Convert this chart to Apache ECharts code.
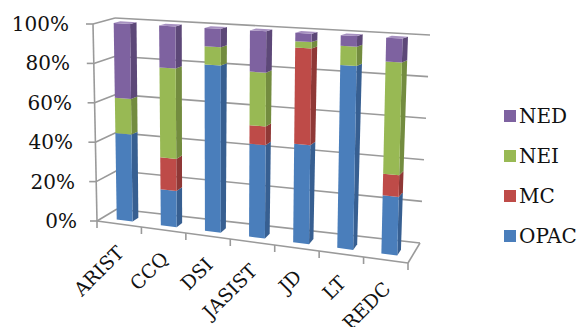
<!DOCTYPE html>
<html><head><meta charset="utf-8">
<script src="https://cdn.jsdelivr.net/npm/echarts@6/dist/echarts.min.js"></script>
<style>html,body{margin:0;padding:0;background:#fff}#c{width:582px;height:327px}</style>
</head><body><div id="c"></div>
<script>
// ---- data ----
const categories = ['ARIST','CCQ','DSI','JASIST','JD','LT','REDC'];
const OPAC = [44, 18, 82, 45, 47, 86, 27];
const MC   = [0, 16, 0, 9, 46, 0, 10];
const NEI  = [18, 45, 9, 26, 3, 9, 52];
const NED  = [38, 21, 9, 20, 4, 5, 11];
const yTicks = [0, 20, 40, 60, 80, 100];
const legendOrder = ['NED', 'NEI', 'MC', 'OPAC'];

const stackNames = ['OPAC', 'MC', 'NEI', 'NED'];
const stackValues = [OPAC, MC, NEI, NED];
const palette = {
  OPAC: ['#4A7EBB', '#375F91', '#7DA2D2'],
  MC:   ['#BE4B48', '#8F3836', '#D7807E'],
  NEI:  ['#98B954', '#738C3F', '#BBD18C'],
  NED:  ['#7E62A0', '#5D4878', '#A690C0']
};
const FONT = 'DejaVu Serif';

// ---- pseudo-3D frame built around the plot rectangle ----
function lerp(a, b, t) { return [a[0] + (b[0] - a[0]) * t, a[1] + (b[1] - a[1]) * t]; }
function frame(cs) {
  const L = cs.x, R = cs.x + cs.width, T = cs.y, B = cs.y + cs.height;
  const F = { l0: [L + 4, B], r0: [R - 4, B + 42], l1: [L, T], r1: [R, T + 17] };
  const K = { l0: [L + 24, B - 12], r0: [R + 8, B + 22], l1: [L + 22, T - 6], r1: [R + 18, T + 11] };
  function plane(P, s, t) { return lerp(lerp(P.l0, P.r0, s), lerp(P.l1, P.r1, s), t); }
  return function (s, t, w) { return lerp(plane(K, s, t), plane(F, s, t), w); };
}
function norm(cs, p) {
  return [(p[0] - cs.x) / cs.width, (cs.y + cs.height - p[1]) / cs.height];
}
const GRID_STYLE = { stroke: '#9a9a9a', lineWidth: 1.6 };
function line(a, b) {
  return { type: 'line', shape: { x1: a[0], y1: a[1], x2: b[0], y2: b[1] }, style: GRID_STYLE, silent: true };
}

function renderGrid(params, api) {
  const cs = params.coordSys, W = frame(cs);
  const t = norm(cs, api.coord([0, api.value(1)]))[1];
  const ch = [
    line(W(0, t, 0), W(1, t, 0)),
    line(W(0, t, 0), W(0, t, 1)),
    line(W(0, t, 1), [W(0, t, 1)[0] - 7, W(0, t, 1)[1]])
  ];
  if (api.value(1) === 0) {
    ch.push(line(W(0, 0, 1), W(1, 0, 1)));
    ch.push(line(W(1, 0, 0), W(1, 0, 1)));
    ch.push(line(W(0, 0, 1), W(0, 1, 1)));
    const band = api.size([1, 0])[0] / cs.width;
    for (let k = 0; k <= categories.length; k++) {
      const p = W(k * band, 0, 1);
      ch.push(line(p, [p[0], p[1] + 7]));
    }
  }
  return { type: 'group', children: ch };
}

function renderLabel(params, api) {
  const cs = params.coordSys, W = frame(cs);
  const idx = api.value(0);
  const s = norm(cs, api.coord([idx, 0]))[0];
  const p = W(s, 0, 1);
  return {
    type: 'text', x: p[0] + 1, y: p[1] + 25, rotation: Math.PI / 4,
    style: { text: categories[idx], fontFamily: FONT, fontSize: 19, fill: '#111', align: 'right', verticalAlign: 'middle' }
  };
}

function makeBarRenderer(name) {
  const col = palette[name];
  return function (params, api) {
    const cs = params.coordSys, W = frame(cs);
    const idx = api.value(0), v0 = api.value(1), v1 = api.value(2);
    if (!(v1 - v0 > 0)) return null;
    const n0 = norm(cs, api.coord([idx, v0])), n1 = norm(cs, api.coord([idx, v1]));
    const hs = api.size([1, 0])[0] * 0.18 / cs.width;
    const sc = n0[0], t0 = n0[1], t1 = n1[1];
    const wf = 0.72, wb = 0.42;
    const a = sc - hs, b = sc + hs;
    const ch = [
      { type: 'polygon', shape: { points: [W(b, t0, wf), W(b, t0, wb), W(b, t1, wb), W(b, t1, wf)] }, style: { fill: col[1] } },
      { type: 'polygon', shape: { points: [W(a, t0, wf), W(b, t0, wf), W(b, t1, wf), W(a, t1, wf)] }, style: { fill: col[0] } }
    ];
    if (v1 >= 99.5) {
      ch.push({ type: 'polygon', shape: { points: [W(a, t1, wf), W(b, t1, wf), W(b, t1, wb), W(a, t1, wb)] }, style: { fill: col[2] } });
    }
    return { type: 'group', children: ch };
  };
}

const barSeries = stackNames.map((name, si) => ({
  type: 'custom',
  name: name,
  coordinateSystem: 'cartesian2d',
  renderItem: makeBarRenderer(name),
  itemStyle: { color: palette[name][0] },
  encode: { x: 0, y: [1, 2] },
  z: 3,
  data: categories.map((c, i) => {
    let base = 0;
    for (let k = 0; k < si; k++) base += stackValues[k][i];
    return [i, base, base + stackValues[si][i]];
  })
}));

const chart = echarts.init(document.getElementById('c'), null, { renderer: 'svg' });
chart.setOption({
  animation: false,
  backgroundColor: '#fff',
  grid: { left: 93, right: 170, top: 24, bottom: 106 },
  xAxis: {
    type: 'category', data: categories, boundaryGap: true,
    axisLine: { show: false }, axisTick: { show: false }, axisLabel: { show: false }, splitLine: { show: false }
  },
  yAxis: {
    type: 'value', min: 0, max: 100, interval: 20,
    axisLine: { show: false }, axisTick: { show: false }, splitLine: { show: false },
    axisLabel: {
      margin: 16,
      formatter: v => '{p' + v + '|' + v + '%}',
      rich: {
        p0: { fontFamily: FONT, fontSize: 20, color: '#111', padding: [0, 0, 0, 0] },
        p20: { fontFamily: FONT, fontSize: 20, color: '#111', padding: [0, 2, 0, 0] },
        p40: { fontFamily: FONT, fontSize: 20, color: '#111', padding: [0, 4, 0, 0] },
        p60: { fontFamily: FONT, fontSize: 20, color: '#111', padding: [0, 5, 0, 0] },
        p80: { fontFamily: FONT, fontSize: 20, color: '#111', padding: [0, 7, 0, 0] },
        p100: { fontFamily: FONT, fontSize: 20, color: '#111', padding: [0, 8, 0, 0] }
      }
    }
  },
  legend: {
    orient: 'vertical', left: 499, top: 101, icon: 'rect',
    itemWidth: 12, itemHeight: 12, itemGap: 20,
    data: legendOrder,
    textStyle: { fontFamily: FONT, fontSize: 20, color: '#111', padding: [0, 0, 0, -2] }
  },
  series: [
    {
      type: 'custom', name: 'grid', coordinateSystem: 'cartesian2d', silent: true, z: 1,
      renderItem: renderGrid, encode: { x: 0, y: 1 },
      data: yTicks.map(v => [0, v])
    },
    {
      type: 'custom', name: 'labels', coordinateSystem: 'cartesian2d', silent: true, z: 2,
      renderItem: renderLabel, encode: { x: 0, y: 1 },
      data: categories.map((c, i) => [i, 0])
    }
  ].concat(barSeries)
});
</script>
</body></html>
